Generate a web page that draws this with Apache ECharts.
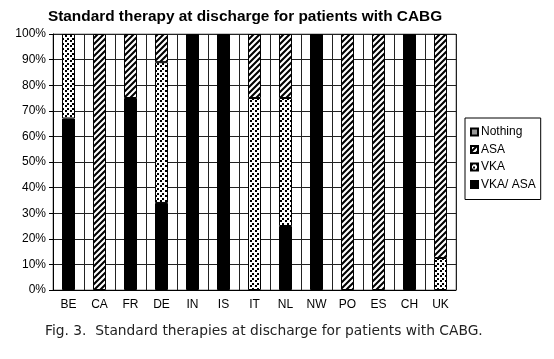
<!DOCTYPE html>
<html><head><meta charset="utf-8">
<script src="https://cdn.jsdelivr.net/npm/echarts@6/dist/echarts.min.js"></script>
<style>html,body{margin:0;padding:0;background:#fff}#c{width:554px;height:359px}</style>
</head><body><div id="c"></div>
<script>
const categories = ['BE','CA','FR','DE','IN','IS','IT','NL','NW','PO','ES','CH','UK'];
const vkaAsa  = [67, 0, 75, 34, 100, 100, 0, 25, 100, 0, 0, 100, 0];
const vka     = [33, 0, 0, 55, 0, 0, 75, 50, 0, 0, 0, 0, 12.5];
const asa     = [0, 100, 25, 11, 0, 0, 25, 25, 0, 100, 100, 0, 87.5];
const nothing = [0, 0, 0, 0, 0, 0, 0, 0, 0, 0, 0, 0, 0];
const yTicks = [0,10,20,30,40,50,60,70,80,90,100];

function hatch(){
  const c=document.createElement('canvas'); c.width=c.height=6;
  const g=c.getContext('2d'); g.fillStyle='#fff'; g.fillRect(0,0,6,6);
  g.strokeStyle='#000'; g.lineWidth=2.1; g.beginPath();
  g.moveTo(-1,7); g.lineTo(7,-1);
  g.moveTo(-4,4); g.lineTo(4,-4);
  g.moveTo(2,10); g.lineTo(10,2);
  g.stroke(); return c;
}
function dots(){
  const c=document.createElement('canvas'); c.width=c.height=5;
  const g=c.getContext('2d'); g.fillStyle='#fff'; g.fillRect(0,0,5,5);
  g.fillStyle='#000'; g.fillRect(0,0,2,2); g.fillRect(2,3,2,2);
  return c;
}
const hatchPat = {image: hatch(), repeat:'repeat'};
const dotPat = {image: dots(), repeat:'repeat'};
const nz = a => a.map(v => v === 0 ? null : v);

const chart = echarts.init(document.getElementById('c'), null, {renderer:'canvas'});
const bar = (name, data, color) => ({
  name, type:'bar', stack:'s', data: nz(data), barWidth:13,
  itemStyle:{color, borderColor:'#000', borderWidth:1}
});
chart.setOption({
  animation:false,
  textStyle:{fontFamily:'Liberation Sans, Arial'},
  title:{text:'Standard therapy at discharge for patients with CABG', left:240, textAlign:'center', top:4,
    textStyle:{fontSize:15.4, fontWeight:'bold', color:'#000', fontFamily:'Liberation Sans, Arial'}},
  grid:{left:53, right:98, top:34, bottom:69, show:true, borderColor:'#888', borderWidth:1},
  legend:{orient:'vertical', left:465, top:118, data:['Nothing','ASA','VKA','VKA/ ASA'],
    borderColor:'#000', borderWidth:1, padding:[8,5,9,5], itemGap:5.5,
    itemWidth:7, itemHeight:7, icon:'rect',
    textStyle:{fontSize:12, color:'#000', fontFamily:'Liberation Sans, Arial', padding:[0,0,0,-2]}},
  xAxis:{type:'category', data:categories,
    axisLine:{lineStyle:{color:'#000'}}, axisTick:{lineStyle:{color:'#000'}, length:4},
    axisLabel:{color:'#000', fontSize:12, margin:9},
    splitLine:{show:true, lineStyle:{color:'#222'}}},
  yAxis:{type:'value', min:0, max:100, interval:10,
    axisLine:{show:true, lineStyle:{color:'#000'}}, axisTick:{show:true, length:4, lineStyle:{color:'#000'}},
    axisLabel:{color:'#000', fontSize:12, margin:7, formatter: v => yTicks.includes(v) ? v + '%' : ''},
    splitLine:{lineStyle:{color:'#222'}}},
  graphic:[{type:'text', left:45, top:324,
    style:{text:'Fig. 3.  Standard therapies at discharge for patients with CABG.', fontSize:13.8,
      fontFamily:'DejaVu Sans', fill:'#222'}}],
  series:[
    bar('VKA/ ASA', vkaAsa, '#000'),
    bar('VKA', vka, dotPat),
    bar('ASA', asa, hatchPat),
    bar('Nothing', nothing, '#999')
  ]
});
</script></body></html>
